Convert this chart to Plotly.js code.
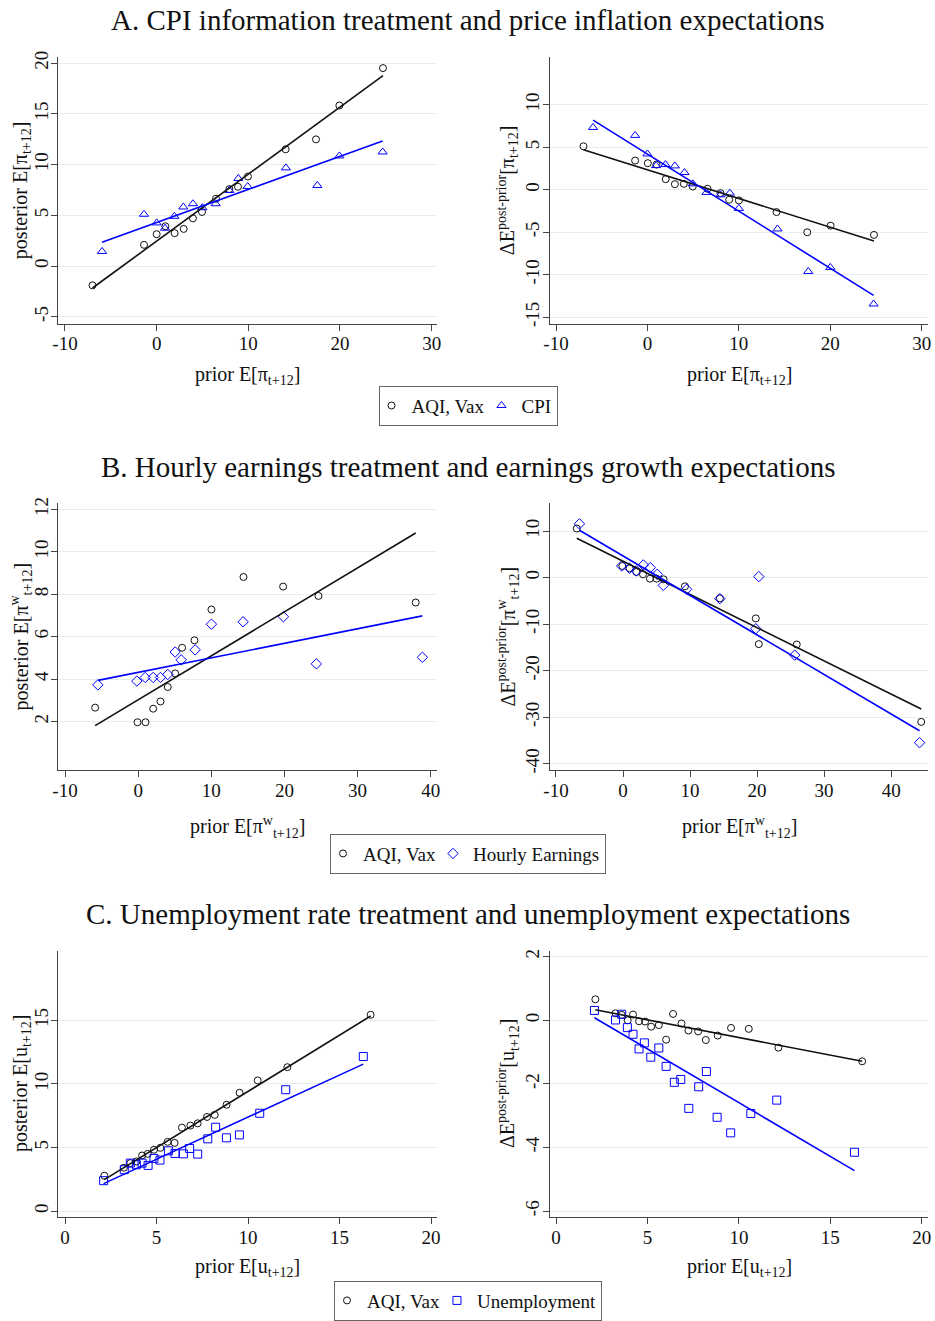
<!DOCTYPE html>
<html>
<head>
<meta charset="utf-8">
<script src="https://cdn.plot.ly/plotly-3.0.1.min.js"></script>
<style>html,body{margin:0;padding:0;background:#fff;}#chart{width:935px;height:1321px;}</style>
</head>
<body>
<div id="chart"></div>
<script>
// ---------- Panel A: CPI treatment, price inflation ----------
const aLeftPriorAQI = [-7.0,-1.38,0,0.95,1.96,2.95,3.96,4.95,6.47,7.93,8.87,9.96,14.07,17.38,19.93,24.69];
const aLeftPostAQI  = [-1.9,2.09,3.14,3.92,3.24,3.66,4.7,5.33,6.63,7.58,7.81,8.82,11.5,12.48,15.82,19.5];
const aLeftPriorCPI = [-5.96,-1.38,0,0.91,1.93,2.91,3.96,4.98,6.44,7.93,8.91,9.93,14.1,17.53,19.93,24.65];
const aLeftPostCPI  = [1.44,5.1,4.25,3.73,4.9,5.82,6.14,5.75,6.14,7.45,8.63,7.84,9.67,7.94,10.85,11.24];

const aRightPriorAQI = [-7.0,-1.35,0.04,0.99,2.0,3.0,3.98,4.96,6.57,7.99,8.94,10.0,14.12,17.48,20.04,24.78];
const aRightDiffAQI  = [5.12,3.44,3.13,2.97,1.25,0.66,0.70,0.39,0.12,-0.39,-1.17,-1.25,-2.62,-5.0,-4.22,-5.31];
const aRightPriorCPI = [-5.95,-1.35,0,0.95,1.97,3.0,4.05,4.96,6.46,7.99,9.01,10.0,14.23,17.59,20.0,24.74];
const aRightDiffCPI  = [7.34,6.4,4.22,2.85,2.97,2.81,2.03,0.70,-0.31,-0.59,-0.39,-2.19,-4.61,-9.61,-9.14,-13.44];

// ---------- Panel B: hourly earnings treatment ----------
const bLeftPriorAQI = [-5.88,-0.09,1.0,2.05,3.05,4.05,5.06,6.01,7.7,10.02,14.4,19.82,24.65,37.95];
const bLeftPostAQI  = [2.66,1.97,1.97,2.61,2.95,3.63,4.27,5.48,5.83,7.28,8.81,8.36,7.92,7.61];
const bLeftPriorHE  = [-5.51,-0.18,0.96,2.05,3.05,4.05,5.06,5.88,7.79,10.02,14.35,19.86,24.37,38.86];
const bLeftPostHE   = [3.73,3.91,4.08,4.08,4.08,4.22,5.28,4.91,5.38,6.59,6.7,6.94,4.72,5.03];

const bRightPriorAQI = [-6.9,-0.1,0.99,1.99,2.98,4.02,5.01,6.06,9.24,14.45,19.81,20.26,25.92,44.49];
const bRightDiffAQI  = [10.55,2.51,2.0,1.22,0.72,-0.22,-0.22,-0.36,-1.87,-4.45,-8.76,-14.29,-14.36,-31.0];
const bRightPriorHE  = [-6.5,-0.2,0.99,1.99,3.03,4.07,5.11,6.01,9.49,14.45,19.81,20.26,25.62,44.24];
const bRightDiffHE   = [11.56,2.51,2.0,1.44,2.73,2.15,0.72,-1.65,-2.51,-4.52,-10.98,0.22,-16.65,-35.46];

// ---------- Panel C: unemployment treatment ----------
const cLeftPriorAQI = [2.15,3.22,3.57,3.9,4.21,4.52,4.86,5.21,5.61,5.99,6.39,6.85,7.25,7.76,8.18,8.83,9.54,10.53,12.15,16.7];
const cLeftPostAQI  = [2.79,3.42,3.78,3.91,4.38,4.51,4.83,4.98,5.45,5.37,6.57,6.73,6.91,7.41,7.57,8.37,9.31,10.28,11.32,15.44];
const cLeftPriorUE  = [2.11,3.24,3.57,3.9,4.21,4.54,4.86,5.19,5.65,6.01,6.47,6.81,7.25,7.8,8.23,8.82,9.53,10.64,12.06,16.3];
const cLeftPostUE   = [2.4,3.26,3.78,3.65,3.78,3.6,4.15,4.02,4.75,4.54,4.51,4.93,4.49,5.69,6.6,5.77,6.0,7.7,9.55,12.16];

const cRightPriorAQI = [2.15,3.25,3.59,3.92,4.21,4.54,4.87,5.2,5.62,6.02,6.4,6.86,7.24,7.77,8.19,8.84,9.57,10.54,12.16,16.74];
const cRightDiffAQI  = [0.66,0.22,0.17,0.0,0.18,-0.03,-0.04,-0.2,-0.15,-0.61,0.2,-0.10,-0.32,-0.35,-0.62,-0.48,-0.24,-0.27,-0.86,-1.29];
const cRightPriorUE  = [2.1,3.25,3.59,3.9,4.21,4.54,4.83,5.18,5.62,6.02,6.47,6.82,7.26,7.8,8.22,8.81,9.55,10.65,12.07,16.32];
const cRightDiffUE   = [0.31,0.01,0.19,-0.23,-0.44,-0.9,-0.71,-1.16,-0.87,-1.45,-1.95,-1.86,-2.77,-2.09,-1.61,-3.05,-3.54,-2.93,-2.51,-4.15];

// Linear fit lines (intercept, slope), order: [A-left, A-right, B-left, B-right, C-left, C-right]
const fitInterceptAQI = [2.46, 2.36, 3.03, 3.54, 0.58, 0.569];
const fitSlopeAQI     = [0.66, -0.338, 0.207, -0.714, 0.884, -0.111];
const fitInterceptTreat = [4.29, 4.2, 4.32, 4.67, 0.773, 0.79];
const fitSlopeTreat     = [0.3257, -0.672, 0.0685, -0.849, 0.662, -0.338];

// Labels
const panelTitles = [
  "A. CPI information treatment and price inflation expectations",
  "B. Hourly earnings treatment and earnings growth expectations",
  "C. Unemployment rate treatment and unemployment expectations"
];
const treatNames = ["CPI", "Hourly Earnings", "Unemployment"];
const controlName = "AQI, Vax";
const xTitles = [
  "prior E[π<sub>t+12</sub>]",
  "prior E[π<sup>w</sup><sub>t+12</sub>]",
  "prior E[u<sub>t+12</sub>]"
];
const yTitlesLeft = [
  "posterior E[π<sub>t+12</sub>]",
  "posterior E[π<sup>w</sup><sub>t+12</sub>]",
  "posterior E[u<sub>t+12</sub>]"
];
const yTitlesRight = [
  "ΔE<sup>post-prior</sup>[π<sub>t+12</sub>]",
  "ΔE<sup>post-prior</sup>[π<sup>w</sup><sub>t+12</sub>]",
  "ΔE<sup>post-prior</sup>[u<sub>t+12</sub>]"
];
const xTicks = [[-10,0,10,20,30],[-10,0,10,20,30,40],[0,5,10,15,20]];
const yTicksLeft = [[-5,0,5,10,15,20],[2,4,6,8,10,12],[0,5,10,15]];
const yTicksRight = [[-15,-10,-5,0,5,10],[-40,-30,-20,-10,0,10],[-6,-4,-2,0,2]];

// ---------- build ----------
const W = 935, H = 1321;
const BLUE = "#0000ff", BLACK = "#111111";
const treatSymbols = ["triangle-up-open", "diamond-open", "square-open"];
const FONT = "Liberation Serif, Times New Roman, serif";

// pixel frames for each plot region [x0, x1], [yTop, yBottom]
const colX = [[58.3, 436.7], [550, 928]];
const rowY = [[57, 325], [505, 774], [955, 1223]];
const xTitleOffset = [52, 57, 50];
const xRanges = [[[-10.73, 30.55], [-10.66, 30.69]], [[-10.92, 40.82], [-10.89, 45.5]], [[-0.366, 20.31], [-0.33, 20.34]]];
const yRanges = [[[-5.66, 20.62], [-15.74, 15.66]], [[-0.30, 12.31], [-41.44, 16.1]], [[-0.49, 20.48], [-6.2, 2.19]]];

const series = [
  [[aLeftPriorAQI, aLeftPostAQI, aLeftPriorCPI, aLeftPostCPI], [aRightPriorAQI, aRightDiffAQI, aRightPriorCPI, aRightDiffCPI]],
  [[bLeftPriorAQI, bLeftPostAQI, bLeftPriorHE, bLeftPostHE], [bRightPriorAQI, bRightDiffAQI, bRightPriorHE, bRightDiffHE]],
  [[cLeftPriorAQI, cLeftPostAQI, cLeftPriorUE, cLeftPostUE], [cRightPriorAQI, cRightDiffAQI, cRightPriorUE, cRightDiffUE]]
];

const traces = [];
const layout = {
  width: W, height: H,
  margin: {l: 0, r: 0, t: 0, b: 0},
  paper_bgcolor: "#fff", plot_bgcolor: "#fff",
  font: {family: FONT, size: 19, color: "#111"},
  showlegend: true,
  annotations: []
};
const legendNames = ["legend", "legend2", "legend3"];
const legendCenterY = [407.5, 857.5, 1306.5];

function fitLine(xs, a, b) {
  const lo = Math.min(...xs), hi = Math.max(...xs);
  return {x: [lo, hi], y: [a + b * lo, a + b * hi]};
}

let k = 0;
for (let r = 0; r < 3; r++) {
  for (let c = 0; c < 2; c++) {
    k++;
    const sfx = k === 1 ? "" : String(k);
    const xa = "x" + sfx, ya = "y" + sfx;
    const [px, py, tx, ty] = series[r][c];
    const idx = r * 2 + c;
    const fa = fitLine(px, fitInterceptAQI[idx], fitSlopeAQI[idx]);
    const ft = fitLine(tx, fitInterceptTreat[idx], fitSlopeTreat[idx]);
    traces.push({x: px, y: py, xaxis: xa, yaxis: ya, mode: "markers", type: "scatter",
      name: controlName, legend: legendNames[r], showlegend: c === 0,
      marker: {symbol: "circle-open", size: 7, color: BLACK, line: {width: 1, color: BLACK}}});
    traces.push({x: tx, y: ty, xaxis: xa, yaxis: ya, mode: "markers", type: "scatter",
      name: treatNames[r], legend: legendNames[r], showlegend: c === 0,
      marker: {symbol: treatSymbols[r], size: 8, color: BLUE, line: {width: 1, color: BLUE}}});
    traces.push({x: fa.x, y: fa.y, xaxis: xa, yaxis: ya, mode: "lines", type: "scatter",
      showlegend: false, hoverinfo: "skip", line: {color: BLACK, width: 1.6}});
    traces.push({x: ft.x, y: ft.y, xaxis: xa, yaxis: ya, mode: "lines", type: "scatter",
      showlegend: false, hoverinfo: "skip", line: {color: BLUE, width: 1.6}});

    const [x0, x1] = colX[c];
    const [yt, yb] = rowY[r];
    layout["xaxis" + sfx] = {
      domain: [x0 / W, x1 / W], anchor: ya, range: xRanges[r][c],
      tickmode: "array", tickvals: xTicks[r], ticktext: xTicks[r].map(String),
      showgrid: false, zeroline: false, showline: true, linecolor: "#444", linewidth: 1,
      ticks: "outside", ticklen: 6, tickcolor: "#444", tickwidth: 1, ticklabelstandoff: -3,
      tickfont: {family: FONT, size: 19, color: "#111"}, automargin: false, fixedrange: true
    };
    layout["yaxis" + sfx] = {
      domain: [1 - yb / H, 1 - yt / H], anchor: xa, range: yRanges[r][c],
      tickmode: "array", tickvals: (c === 0 ? yTicksLeft : yTicksRight)[r],
      ticktext: (c === 0 ? yTicksLeft : yTicksRight)[r].map(String),
      tickangle: -90, ticklabelstandoff: -4,
      showgrid: true, gridcolor: "#e4eef0", gridwidth: 1,
      zeroline: false, showline: true, linecolor: "#444", linewidth: 1,
      ticks: "outside", ticklen: 6, tickcolor: "#444", tickwidth: 1,
      tickfont: {family: FONT, size: 19, color: "#111"}, automargin: false, fixedrange: true
    };

    // axis titles
    layout.annotations.push({
      xref: "paper", yref: "paper", x: (x0 + x1) / 2 / W, y: 1 - (yb + xTitleOffset[r]) / H,
      xanchor: "center", yanchor: "middle", showarrow: false,
      text: xTitles[r], font: {family: FONT, size: 20, color: "#111"}
    });
    layout.annotations.push({
      xref: "paper", yref: "paper", x: (c === 0 ? 21 : 508) / W, y: 1 - (yt + yb) / 2 / H,
      xanchor: "center", yanchor: "middle", showarrow: false, textangle: -90,
      text: (c === 0 ? yTitlesLeft : yTitlesRight)[r], font: {family: FONT, size: 20, color: "#111"}
    });
  }
  // panel title
  layout.annotations.push({
    xref: "paper", yref: "paper", x: 468 / W, y: 1 - [20, 469, 918][r] / H,
    xanchor: "center", yanchor: "middle", showarrow: false,
    text: panelTitles[r], font: {family: FONT, size: 29, color: "#111"}
  });
  layout[legendNames[r]] = {
    x: 468 / W, y: 1 - legendCenterY[r] / H, xanchor: "center", yanchor: "middle",
    orientation: "h", bgcolor: "#fff", bordercolor: "#666", borderwidth: 1,
    font: {family: FONT, size: 19, color: "#111"}, itemwidth: 30, tracegroupgap: 0,
    indentation: -8
  };
}

Plotly.newPlot("chart", traces, layout, {staticPlot: true, displayModeBar: false});
</script>
</body>
</html>
